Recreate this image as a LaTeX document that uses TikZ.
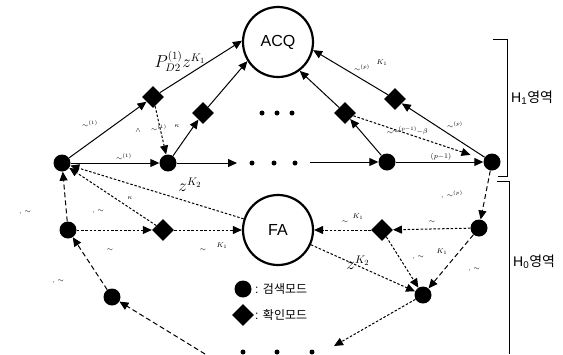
\documentclass[tikz,border=0pt]{standalone}
\usepackage{fontspec}
\setmainfont{Liberation Sans}
\newfontfamily\kr{Noto Sans CJK KR}
\usetikzlibrary{shapes.geometric,arrows.meta}
\begin{document}
\begin{tikzpicture}[x=1pt,y=-1pt,
 srch/.style={circle,fill=black,minimum size=17pt,inner sep=0pt},
 conf/.style={diamond,fill=black,minimum size=22pt,inner sep=0pt},
 bigstate/.style={circle,draw,line width=2.2pt,minimum size=70pt,inner sep=0pt,font=\fontsize{16}{18}\selectfont},
 rowdot/.style={circle,fill=black,minimum size=5pt,inner sep=0pt},
 arr/.style={-{Triangle[length=9pt,width=8pt]},line width=1pt},
 dsh/.style={arr,dash pattern=on 2.5pt off 1.8pt},
 ldsh/.style={arr,dash pattern=on 5pt off 3pt},
 lbl/.style={font=\fontsize{7}{8}\selectfont,inner sep=0pt},
 mlbl/.style={font=\fontsize{16}{18}\selectfont,inner sep=0pt},
 krtext/.style={font=\fontsize{12}{14}\selectfont,inner sep=0pt,anchor=west}]
\useasboundingbox (0,0) rectangle (563,354);
% main states
\node[bigstate] (ACQ) at (278,42) {ACQ};
\node[bigstate] (FA) at (278,230) {FA};
% H1 region
\node[srch] (L0) at (62,163) {};
\node[srch] (A1) at (168,163) {};
\node[srch] (B1) at (387,162) {};
\node[srch] (B2) at (492,162) {};
\node[conf] (D1) at (153,97) {};
\node[conf] (D2) at (203,113) {};
\node[conf] (D3) at (395,99) {};
\node[conf] (D4) at (345,113) {};
\node[rowdot] (u1) at (262,113) {};
\node[rowdot] (u2) at (277,113) {};
\node[rowdot] (u3) at (292,113) {};
\node[rowdot] (r1) at (252,163) {};
\node[rowdot] (r2) at (274,163) {};
\node[rowdot] (r3) at (295,163) {};
\coordinate (rdl) at (237,163);
\coordinate (rdr) at (310,162);
% H0 region
\node[srch] (C1) at (68,230) {};
\node[conf] (D5) at (163,230) {};
\node[srch] (C2) at (112,297) {};
\node[srch] (C4) at (479,228) {};
\node[conf] (D6) at (382,230) {};
\node[srch] (C3) at (423,295) {};
\node[rowdot] (b1) at (243,352) {};
\node[rowdot] (b2) at (277,352) {};
\node[rowdot] (b3) at (312,352) {};
\coordinate (bdr) at (334,346);
\coordinate (bdl) at (205,354);
% solid connectors
\draw[arr] (L0) -- (D1);
\draw[arr] (D1) -- (ACQ.178);
\draw[arr] (A1) -- (D2);
\draw[arr] (D2) -- (ACQ.212);
\draw[arr] (B2) -- (D3);
\draw[arr] (D3) -- (ACQ.-13);
\draw[arr] (B1) -- (D4);
\draw[arr] (D4) -- (ACQ.-53);
\draw[arr] (L0) -- (A1);
\draw[arr] (A1) -- (rdl);
\draw[arr] (rdr) -- (B1);
\draw[arr] (B1) -- (B2);
% dashed connectors
\draw[dsh] (D1) -- (A1);
\draw[dsh,shorten >=14pt] (D4) -- (B2);
\draw[ldsh] (B2) -- (C4);
\draw[dsh] (C4) -- (D6);
\draw[dsh] (D6) -- (FA);
\draw[dsh] (D6) -- (C3);
\draw[dsh] (FA) -- (C3);
\draw[ldsh] (C4) -- (C3);
\draw[dsh] (C3) -- (bdr);
\draw[ldsh] (bdl) -- (C2);
\draw[ldsh] (C2) -- (C1);
\draw[ldsh] (C1) -- (L0);
\draw[dsh] (C1) -- (D5);
\draw[dsh] (D5) -- (FA);
\draw[dsh] (D5) -- (L0);
\draw[dsh] (FA.162) -- (L0);
% main labels
\node[mlbl] (pl) at (180,61) {$P^{(1)}_{D2}z^{K_1}$};
\node[mlbl] (zl) at (190,185) {$z^{K_2}$};
\node[mlbl] (zr) at (358,263) {$z^{K_2}$};
% small (faint) labels
\node[lbl] (s1) at (90,124) {$\sim^{(1)}$};
\node[lbl] (s2) at (124,157) {$\sim^{(1)}$};
\node[lbl] (s3) at (138,131) {$\wedge$};
\node[lbl] (s4) at (159,128) {$\sim^{(1)}$};
\node[lbl] (s5) at (177,126) {$\kappa$};
\node[lbl] (s6) at (362,68) {$\sim^{(p)}$};
\node[lbl] (s7) at (382,63) {$K_1$};
\node[lbl] (s8) at (455,125) {$\sim^{(p)}$};
\node[lbl] (s9) at (441,157) {$(p{-}1)$};
\node[lbl] (s10) at (410,131) {$\sim^{(p-1)}\!\!-\beta$};
\node[lbl] (s11) at (390,133) {$\sim$};
\node[lbl] (s12) at (25,213) {$,\ \sim$};
\node[lbl] (s13) at (98,212) {$,\ \sim$};
\node[lbl] (s14) at (130,198) {$\kappa$};
\node[lbl] (s15) at (110,250) {$\sim$};
\node[lbl] (s16) at (203,250) {$\sim$};
\node[lbl] (s17) at (222,246) {$K_1$};
\node[lbl] (s18) at (58,282) {$,\ \sim$};
\node[lbl] (s19) at (452,195) {$,\ \sim^{(p)}$};
\node[lbl] (s20) at (345,222) {$\sim$};
\node[lbl] (s21) at (358,217) {$K_1$};
\node[lbl] (s22) at (432,222) {$\sim$};
\node[lbl] (s23) at (418,258) {$,\ \sim$};
\node[lbl] (s24) at (442,252) {$K_1$};
\node[lbl] (s25) at (474,270) {$,\ \sim$};
% brackets
\draw[line width=1pt] (493,39) -- (507,39) -- (507,176) -- (498,176);
\draw[line width=1pt] (497,181) -- (509,181) -- (509,354);
\node[krtext] (H1) at (511,98) {\fontsize{14}{16}\selectfont H\textsubscript{1}{\kr 영역}};
\node[krtext] (H0) at (513,262) {\fontsize{14}{16}\selectfont H\textsubscript{0}{\kr 영역}};
% legend
\node[srch] (lgs) at (243,289) {};
\node[krtext] (lgst) at (255,289) {: {\kr 검색모드}};
\node[conf] (lgc) at (243,315) {};
\node[krtext] (lgct) at (255,315) {: {\kr 확인모드}};
\end{tikzpicture}
\end{document}
